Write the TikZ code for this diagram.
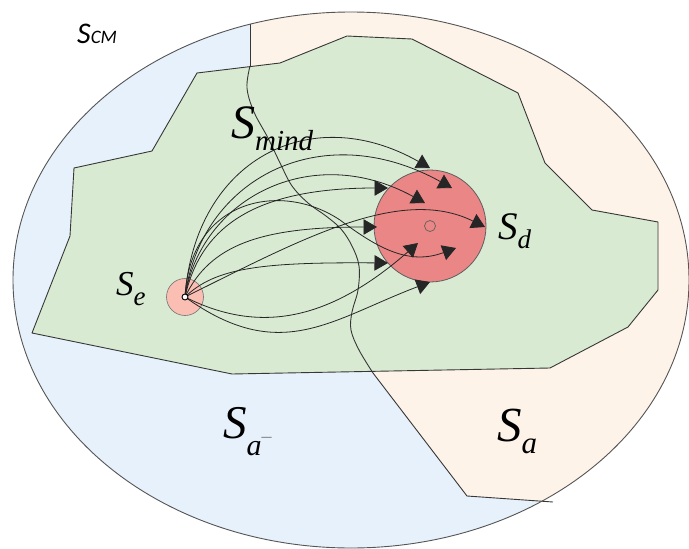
\documentclass[tikz,border=0pt]{standalone}
\usepackage{fontspec}
\usetikzlibrary{arrows.meta}
\newfontfamily\lserif{Liberation Serif}
\newfontfamily\carl{Carlito}
\definecolor{bluebg}{RGB}{231,241,251}
\definecolor{orangebg}{RGB}{253,243,232}
\definecolor{greenbg}{RGB}{217,234,211}
\definecolor{redd}{RGB}{234,134,133}
\definecolor{rede}{RGB}{250,190,178}
\definecolor{edge}{RGB}{55,55,55}
\begin{document}
\begin{tikzpicture}[x=1pt,y=-1pt,
  region/.style={draw=edge, line width=0.9pt, line join=round},
  flow/.style={draw=black!85, line width=0.8pt, -{Triangle[width=15.5pt,length=13.5pt]}},
  lab/.style={anchor=base west, inner sep=0pt, font=\lserif\itshape}]
\useasboundingbox (0,0) rectangle (689,549);
\coordinate (ec) at (351,280);
% outer ellipse (blue)
\fill[bluebg] (ec) ellipse [x radius=338, y radius=268];
\begin{scope}
  \clip (ec) ellipse [x radius=338, y radius=268];
  \fill[orangebg] (250,-10) -- plot[smooth,tension=0.6] coordinates {(250,66) (247,88) (254,112) (268,138) (281,165) (292,186) (308,203) (326,216) (341,229) (352,246) (359,266) (358,290) (352,312) (351,330) (359,350) (373,373)} -- (467,496) -- (553,502) -- (700,560) -- (700,-10) -- cycle;
  \draw[region] (250,5) -- (250,66);
\end{scope}
% S_mind polygon (green)
\draw[region, fill=greenbg] (32,333) -- (70,236) -- (74,168) -- (152,151) -- (197,73) -- (280,63) -- (347,36) -- (412,39) -- (518,93) -- (545,163) -- (592,210) -- (658,222) -- (658,290) -- (628,327) -- (550,368) -- (232,374) -- cycle;
% boundary between S_a and S_a-
\draw[region] plot[smooth,tension=0.6] coordinates {(250,66) (247,88) (254,112) (268,138) (281,165) (292,186) (308,203) (326,216) (341,229) (352,246) (359,266) (358,290) (352,312) (351,330) (359,350) (373,373)} -- (467,496) -- (553,502);
% ellipse outline
\draw[draw=edge!85, line width=0.9pt] (ec) ellipse [x radius=338, y radius=268];
% S_d and S_e
\node[circle, draw=edge!80, fill=redd, line width=0.8pt, minimum size=112pt, inner sep=0pt] (sd) at (430,226) {};
\node[circle, draw=edge!70, fill=rede, line width=0.6pt, minimum size=37pt, inner sep=0pt] (se) at (185,297) {};
\node[circle, draw=edge!80, line width=0.7pt, minimum size=11pt, inner sep=0pt] (sdc) at (sd.center) {};
% arrow tips
\coordinate (ta) at (430,168);
\coordinate (tb) at (452,188);
\coordinate (tc) at (425,203);
\coordinate (td) at (388,188);
\coordinate (te) at (377,227);
\coordinate (tf) at (485,227);
\coordinate (tg) at (418,243);
\coordinate (th) at (456,248);
\coordinate (ti) at (388,263);
\coordinate (tj) at (430,282);
\coordinate (hm) at (340,220);
% trajectories
\draw[flow] (se.center) .. controls (195,160) and (310,100) .. (ta);
\draw[flow] (se.center) .. controls (200,180) and (320,115) .. (tb);
\draw[flow] (se.center) .. controls (200,200) and (310,140) .. (tc);
\draw[flow] (se.center) .. controls (200,230) and (250,188) .. (td);
\draw[flow] (se.center) .. controls (210,245) and (260,227) .. (te);
\draw[flow] (se.center) .. controls (300,240) and (400,185) .. (tf);
\draw[flow] (se.center) .. controls (260,335) and (330,320) .. (tg);
\draw[flow] (se.center) .. controls (190,200) and (280,180) .. (hm) .. controls (380,250) and (410,265) .. (th);
\draw[flow] (se.center) .. controls (215,268) and (260,262) .. (ti);
\draw[flow] (se.center) .. controls (280,365) and (330,320) .. (tj);
\node[circle, draw=black, fill=white, line width=0.9pt, minimum size=6pt, inner sep=0pt] (sec) at (se.center) {};
% labels
\node[anchor=base west, inner sep=0pt] (lcm) at (77,43) {\carl\itshape{\fontsize{30}{30}\selectfont S}{\fontsize{19}{19}\selectfont CM}};
\node[lab] (lmind) at (231,138) {{\fontsize{48}{48}\selectfont S}\raisebox{-12pt}{\fontsize{29}{29}\selectfont mind}};
\node[lab] (ld) at (498,239) {{\fontsize{39}{39}\selectfont S}\raisebox{-9pt}{\fontsize{27}{27}\selectfont d}};
\node[lab] (le) at (116,295) {{\fontsize{35}{35}\selectfont S}\raisebox{-10pt}{\fontsize{27}{27}\selectfont e}};
\node[lab] (lam) at (223,438) {{\fontsize{47}{47}\selectfont S}\raisebox{-17pt}{\fontsize{30}{30}\selectfont a\raisebox{13pt}{\fontsize{20}{20}\selectfont\color{gray}\textendash}}};
\node[lab] (la) at (497,441) {{\fontsize{49}{49}\selectfont S}\raisebox{-12pt}{\fontsize{31}{31}\selectfont a}};
\end{tikzpicture}
\end{document}
